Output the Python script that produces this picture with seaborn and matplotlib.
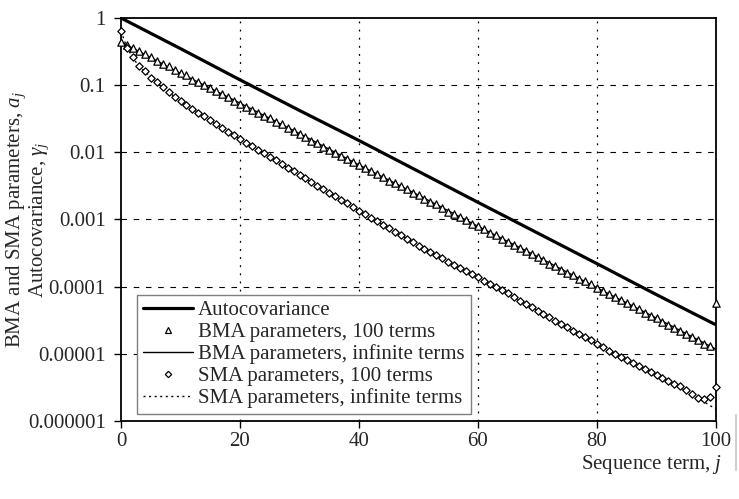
import numpy as np
import pandas as pd
import matplotlib
matplotlib.use("Agg")
import matplotlib.pyplot as plt
from matplotlib.lines import Line2D
import seaborn as sns

# ---------------- data ----------------
j_terms = list(range(0, 101))

sma_100 = [0.64, 0.36, 0.26, 0.19, 0.16, 0.13, 0.11, 0.093, 0.078, 0.066,
           0.059, 0.051, 0.044, 0.039, 0.035, 0.030, 0.026, 0.023, 0.020, 0.018,
           0.016, 0.014, 0.0124, 0.011, 0.0097, 0.0086, 0.0076, 0.0067, 0.0059, 0.0052,
           0.0046, 0.0041, 0.0036, 0.0032, 0.0028, 0.0025, 0.00221, 0.00196, 0.00174, 0.00154,
           0.00136, 0.00121, 0.00107, 0.00095, 0.00084, 0.00074, 0.00066, 0.00058, 0.00052, 0.00046,
           0.00041, 0.000365, 0.000327, 0.000294, 0.000263, 0.000236, 0.000212, 0.00019, 0.00017, 0.000153,
           0.000137, 0.000123, 0.00011, 9.9e-5, 8.9e-5, 8.0e-5, 7.0e-5, 6.2e-5, 5.6e-5, 5.0e-5,
           4.4e-5, 3.9e-5, 3.5e-5, 3.1e-5, 2.8e-5, 2.5e-5, 2.2e-5, 2.0e-5, 1.8e-5, 1.6e-5,
           1.4e-5, 1.25e-5, 1.12e-5, 1.0e-5, 8.9e-6, 8.0e-6, 7.3e-6, 6.6e-6, 5.9e-6, 5.4e-6,
           4.9e-6, 4.4e-6, 4.0e-6, 3.6e-6, 3.3e-6, 2.9e-6, 2.5e-6, 2.2e-6, 2.1e-6, 2.3e-6,
           3.2e-6]

bma_100 = [0.44, 0.40, 0.36, 0.32, 0.29, 0.26, 0.23, 0.21, 0.19, 0.17,
           0.15, 0.14, 0.12, 0.11, 0.10, 0.091, 0.082, 0.073, 0.066, 0.059,
           0.053, 0.048, 0.043, 0.039, 0.035, 0.032, 0.028, 0.026, 0.023, 0.021,
           0.019, 0.017, 0.015, 0.014, 0.012, 0.011, 0.0099, 0.0089, 0.0080, 0.0072,
           0.0065, 0.0059, 0.0053, 0.0048, 0.0043, 0.0038, 0.0035, 0.0031, 0.0028, 0.0025,
           0.0023, 0.0020, 0.0018, 0.0017, 0.0015, 0.0013, 0.0012, 0.0011, 0.00097, 0.00087,
           0.00079, 0.00071, 0.00064, 0.00058, 0.00052, 0.00047, 0.00042, 0.00038, 0.00034, 0.00031,
           0.00028, 0.00025, 0.00022, 0.00020, 0.00018, 0.00016, 0.00015, 0.00013, 0.00012, 0.00011,
           9.6e-5, 8.7e-5, 7.8e-5, 7.0e-5, 6.3e-5, 5.7e-5, 5.1e-5, 4.6e-5, 4.1e-5, 3.7e-5,
           3.4e-5, 3.0e-5, 2.7e-5, 2.4e-5, 2.2e-5, 2.0e-5, 1.8e-5, 1.6e-5, 1.4e-5, 1.3e-5,
           5.8e-5]

line_j = [0, 10, 20, 30, 40, 50, 60, 70, 80, 90, 100]
autocov = [1.0, 0.35, 0.12, 0.042, 0.015, 0.0052, 0.0018, 0.00063, 0.00022, 7.6e-5, 2.7e-5]
bma_inf = [0.44, 0.15, 0.054, 0.019, 0.0065, 0.0023, 0.00079, 0.00028, 9.6e-5, 3.4e-5, 1.17e-5]

sma_inf_j = [0, 1, 2, 3, 4, 6, 8, 10, 13, 17, 20, 30, 40, 50, 60, 70, 80, 90, 95, 100]
sma_inf = [0.64, 0.36, 0.26, 0.19, 0.16, 0.11, 0.078, 0.059, 0.039, 0.023, 0.016, 0.0046,
           0.00136, 0.00041, 0.000137, 4.4e-5, 1.4e-5, 4.9e-6, 2.8e-6, 1.5e-6]

y_ticks = [1e-6, 1e-5, 1e-4, 1e-3, 1e-2, 1e-1, 1]
y_tick_labels = ["0.000001", "0.00001", "0.0001", "0.001", "0.01", "0.1", "1"]
x_ticks = [0, 20, 40, 60, 80, 100]

labels = ["Autocovariance", "BMA parameters, 100 terms", "BMA parameters, infinite terms",
          "SMA parameters, 100 terms", "SMA parameters, infinite terms"]

# ---------------- style ----------------
sns.set_style("white")
plt.rcParams["font.family"] = ["Liberation Serif", "DejaVu Serif"]
plt.rcParams["mathtext.fontset"] = "custom"
plt.rcParams["mathtext.it"] = "Liberation Serif:italic"
plt.rcParams["mathtext.rm"] = "Liberation Serif"

FS = 15

fig = plt.figure(figsize=(7.39, 4.99), dpi=100)
ax = fig.add_axes([121 / 739, 1 - 421 / 499, (716 - 121) / 739, (421 - 18) / 499])

df_auto = pd.DataFrame({"j": line_j, "v": autocov})
df_binf = pd.DataFrame({"j": line_j, "v": bma_inf})
df_sinf = pd.DataFrame({"j": sma_inf_j, "v": sma_inf})
df_b100 = pd.DataFrame({"j": j_terms, "v": bma_100})
df_s100 = pd.DataFrame({"j": j_terms, "v": sma_100})

sns.lineplot(data=df_auto, x="j", y="v", ax=ax, color="black", lw=2.3, legend=False, zorder=3)
sns.lineplot(data=df_binf, x="j", y="v", ax=ax, color="black", lw=1.0, legend=False, zorder=3)
sns.lineplot(data=df_sinf, x="j", y="v", ax=ax, color="black", lw=1.0, legend=False, zorder=3,
             linestyle=(0, (1.5, 2.5)))
sns.scatterplot(data=df_b100, x="j", y="v", ax=ax, marker="^", s=28, facecolor="white",
                edgecolor="black", linewidth=0.9, legend=False, zorder=4, clip_on=False)
sns.scatterplot(data=df_s100, x="j", y="v", ax=ax, marker="D", s=14, facecolor="white",
                edgecolor="black", linewidth=0.9, legend=False, zorder=4, clip_on=False)

ax.set_yscale("log")
ax.set_xlim(0, 100)
ax.set_ylim(1e-6, 1)
ax.set_yticks(y_ticks)
ax.set_yticklabels(y_tick_labels)
ax.yaxis.set_minor_locator(matplotlib.ticker.NullLocator())
ax.set_xticks(x_ticks)
ax.set_xticklabels([str(x) for x in x_ticks])
ax.tick_params(axis="both", which="major", labelsize=FS, direction="out", length=5,
               width=1, color="black", bottom=True, left=True)
ax.tick_params(axis="y", pad=6)
ax.tick_params(axis="x", pad=3)

for s in ax.spines.values():
    s.set_color("black")
    s.set_linewidth(1.3)

# grid lines
for yv in y_ticks[1:-1]:
    ax.axhline(yv, color="black", lw=0.8, linestyle=(0, (5, 6)), zorder=1)
for xv in x_ticks[1:-1]:
    ax.axvline(xv, color="black", lw=0.9, linestyle=(0, (1.5, 5)), zorder=1)

ax.set_xlabel("")
ax.set_ylabel("")
fig.text(28 / 739, 1 - 220 / 499, "BMA and SMA parameters, $a_j$\nAutocovariance, $\\gamma_j$",
         rotation=90, ha="center", va="center", fontsize=FS, linespacing=0.95)
fig.text(722 / 739, 1 - 465 / 499, "Sequence term, $j$", ha="right", va="center", fontsize=FS)

handles = [
    Line2D([], [], color="black", lw=2.3),
    Line2D([], [], color="black", lw=0, marker="^", markersize=4.5, markerfacecolor="white",
           markeredgecolor="black", markeredgewidth=0.9),
    Line2D([], [], color="black", lw=1.0),
    Line2D([], [], color="black", lw=0, marker="D", markersize=3.2, markerfacecolor="white",
           markeredgecolor="black", markeredgewidth=0.9),
    Line2D([], [], color="black", lw=1.0, linestyle=(0, (1.5, 2.5))),
]
leg = ax.legend(handles, labels, loc="lower left", bbox_to_anchor=(137 / 739, 1 - 414 / 499),
                bbox_transform=fig.transFigure, fontsize=FS, frameon=True, fancybox=False,
                framealpha=1, edgecolor="#7f7f7f", borderpad=0.28, labelspacing=0.11,
                handlelength=2.4, handletextpad=0.25, borderaxespad=0)
leg.get_frame().set_linewidth(1.0)
leg.set_zorder(5)

# light grey edge line at right of the reference image
fig.add_artist(Line2D([736 / 739, 736 / 739], [1 - 415 / 499, 1 - 470 / 499],
                      transform=fig.transFigure, color="#d0d0d0", lw=1.5))

fig.savefig("out.png", dpi=100)
